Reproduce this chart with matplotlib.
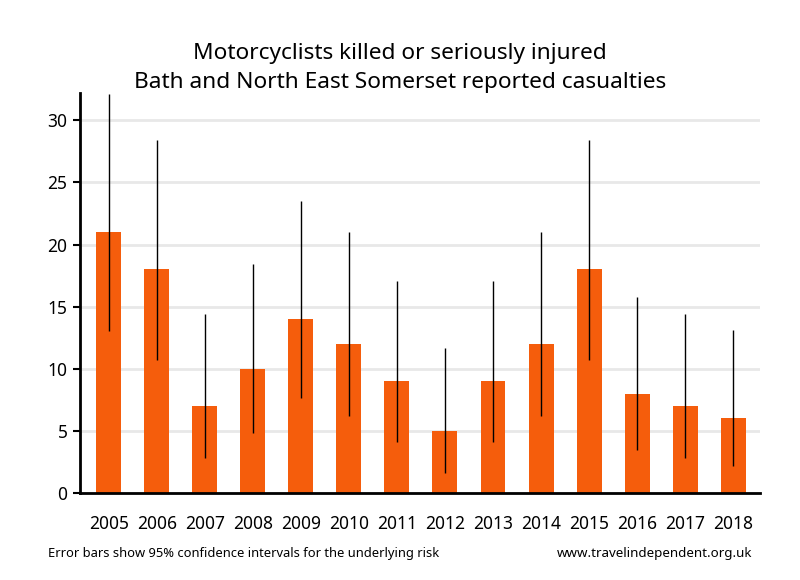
import matplotlib
matplotlib.use("Agg")
import matplotlib.pyplot as plt
import numpy as np

plt.rcParams['font.family'] = ['Noto Sans', 'DejaVu Sans']

years = ['2005', '2006', '2007', '2008', '2009', '2010', '2011', '2012',
         '2013', '2014', '2015', '2016', '2017', '2018']
casualties = [21, 18, 7, 10, 14, 12, 9, 5, 9, 12, 18, 8, 7, 6]
ci_low = [13.0, 10.7, 2.8, 4.8, 7.65, 6.2, 4.1, 1.6, 4.1, 6.2, 10.7, 3.45, 2.8, 2.2]
ci_high = [32.1, 28.4, 14.4, 18.4, 23.5, 21.0, 17.1, 11.7, 17.1, 21.0, 28.4, 15.8, 14.4, 13.1]

fig = plt.figure(figsize=(8, 5.8), dpi=100)
ax = fig.add_axes([0.1, 0.15, 0.85, 0.6897])

x = np.arange(len(years))
ax.bar(x, casualties, width=0.52, color='#f55d0c', zorder=2)
ax.vlines(x, ci_low, ci_high, color='black', linewidth=1, zorder=3)

ax.set_xlim(-0.6, 13.56)
ax.set_ylim(0, 32.2)
ax.set_yticks([0, 5, 10, 15, 20, 25, 30])
ax.yaxis.grid(True, color='#e8e8e8', linewidth=2, zorder=0)
ax.set_axisbelow(True)
ax.set_xticks(x)
ax.set_xticklabels(years, fontsize=12.5)
ax.tick_params(axis='x', length=0, pad=16)
ax.tick_params(axis='y', length=5, width=1.5, labelsize=12.5, direction='out', pad=4)
for s in ['top', 'right']:
    ax.spines[s].set_visible(False)
ax.spines['left'].set_linewidth(2)
ax.spines['bottom'].set_linewidth(2)

fig.text(0.5, 0.908, 'Motorcyclists killed or seriously injured', ha='center', va='center', fontsize=16.3)
fig.text(0.5, 0.857, 'Bath and North East Somerset reported casualties', ha='center', va='center', fontsize=16.3)
fig.text(0.06, 0.046, 'Error bars show 95% confidence intervals for the underlying risk', ha='left', va='center', fontsize=9.3)
fig.text(0.94, 0.046, 'www.travelindependent.org.uk', ha='right', va='center', fontsize=9.6)

fig.savefig('out.png', dpi=100)
